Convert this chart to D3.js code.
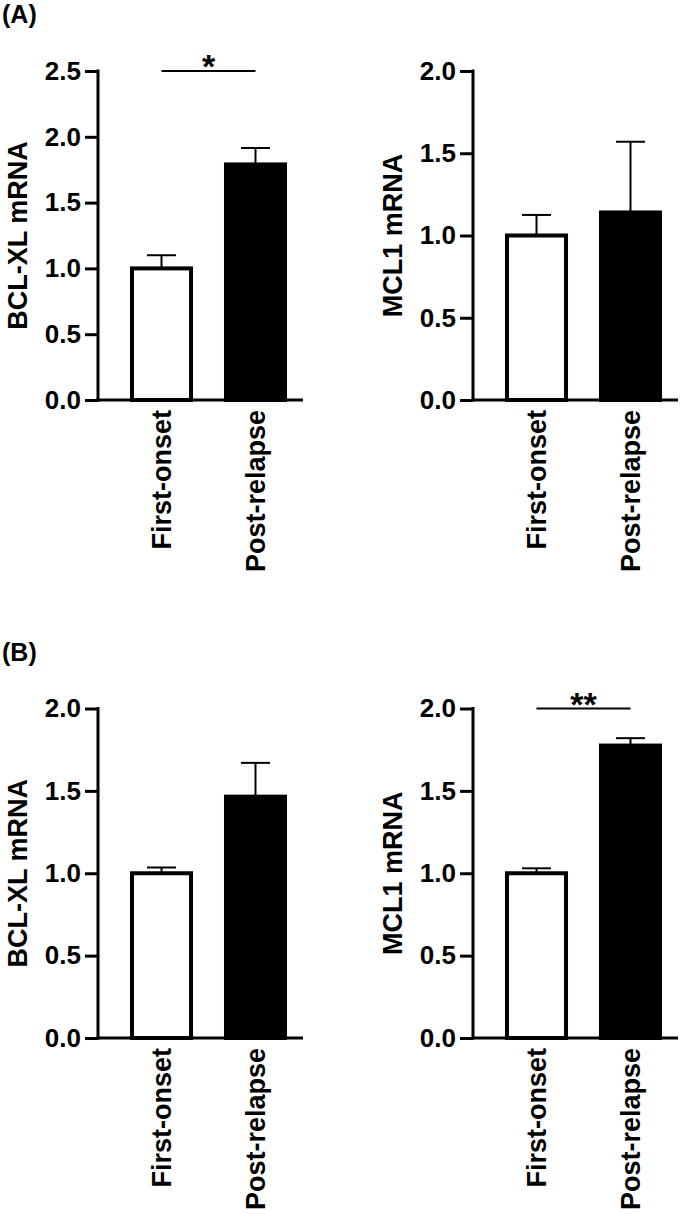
<!DOCTYPE html>
<html>
<head>
<meta charset="utf-8">
<script src="https://cdn.jsdelivr.net/npm/d3@7"></script>
<style>
html,body{margin:0;padding:0;background:#fff;}
svg{display:block;}
text{font-family:"Liberation Sans",Arial,Helvetica,sans-serif;fill:#000;}
</style>
</head>
<body>
<script>
// ---- data ----
const categories = ["First-onset", "Post-relapse"];
const panelLabels = ["(A)", "(B)"];
const yTitles = ["BCL-XL mRNA", "MCL1 mRNA", "BCL-XL mRNA", "MCL1 mRNA"];
const yMaxes = [2.5, 2.0, 2.0, 2.0];
const meansA_BCLXL = [1.0, 1.79];
const errA_BCLXL = [0.10, 0.125];
const meansA_MCL1 = [1.0, 1.14];
const errA_MCL1 = [0.125, 0.43];
const meansB_BCLXL = [1.0, 1.465];
const errB_BCLXL = [0.035, 0.205];
const meansB_MCL1 = [1.0, 1.775];
const errB_MCL1 = [0.03, 0.045];
const significance = ["*", "", "", "**"];
const barFills = ["#fff", "#000"];

const panels = [
  {means: meansA_BCLXL, errs: errA_BCLXL, row: 0, col: 0},
  {means: meansA_MCL1, errs: errA_MCL1, row: 0, col: 1},
  {means: meansB_BCLXL, errs: errB_BCLXL, row: 1, col: 0},
  {means: meansB_MCL1, errs: errB_MCL1, row: 1, col: 1}
];

const W = 696, H = 1214;
const svg = d3.select("body").append("svg").attr("width", W).attr("height", H);

const rowTop = [71, 708.5], rowBottom = [400, 1038];
const colAxis = [98, 473];
const panelLabelY = [23, 661];

panelLabels.forEach((t, i) => {
  svg.append("text").attr("x", 2).attr("y", panelLabelY[i])
    .attr("font-size", 25).attr("font-weight", "bold").text(t);
});

panels.forEach((p, i) => {
  const ax = colAxis[p.col];
  const yTop = rowTop[p.row], yBot = rowBottom[p.row];
  const yMax = yMaxes[i];
  const y = d3.scaleLinear().domain([0, yMax]).range([yBot, yTop]);
  const x = d3.scaleBand().domain(categories)
    .range([ax + 16.5, ax + 204.5]).paddingInner(0.372).paddingOuter(0.186);
  const g = svg.append("g");

  // bars
  g.selectAll("rect.bar").data(p.means).enter().append("rect")
    .attr("x", (d, j) => x(categories[j]))
    .attr("y", d => y(d))
    .attr("width", x.bandwidth())
    .attr("height", d => y(0) - y(d))
    .attr("fill", (d, j) => barFills[j])
    .attr("stroke", "#000").attr("stroke-width", 4);

  // error bars (upper only)
  p.means.forEach((m, j) => {
    const cx = x(categories[j]) + x.bandwidth() / 2;
    g.append("line").attr("x1", cx).attr("x2", cx)
      .attr("y1", y(m)).attr("y2", y(m + p.errs[j]))
      .attr("stroke", "#000").attr("stroke-width", 2);
    g.append("line").attr("x1", cx - 14.5).attr("x2", cx + 14.5)
      .attr("y1", y(m + p.errs[j])).attr("y2", y(m + p.errs[j]))
      .attr("stroke", "#000").attr("stroke-width", 2);
  });

  // y axis
  const yAxis = d3.axisLeft(y).tickValues(d3.range(0, yMax + 0.001, 0.5))
    .tickFormat(d3.format(".1f")).tickSize(13).tickPadding(4);
  const ya = g.append("g").attr("transform", `translate(${ax},0)`).call(yAxis);
  ya.select(".domain").remove();
  ya.selectAll(".tick line").attr("stroke", "#000").attr("stroke-width", 3);
  ya.selectAll(".tick text").attr("font-size", 26).attr("font-weight", "bold")
    .style("font-family", '"Liberation Sans",Arial,sans-serif').attr("fill", "#000");
  g.append("line").attr("x1", ax).attr("x2", ax).attr("y1", yTop - 1.5).attr("y2", yBot + 1.5)
    .attr("stroke", "#000").attr("stroke-width", 3);

  // x axis
  const xa = g.append("g").attr("transform", `translate(0,${yBot})`)
    .call(d3.axisBottom(x).tickSize(0).tickPadding(10));
  xa.select(".domain").remove();
  xa.selectAll(".tick text")
    .attr("font-size", 27).attr("font-weight", "bold")
    .style("font-family", '"Liberation Sans",Arial,sans-serif').attr("fill", "#000")
    .attr("text-anchor", "end")
    .attr("transform", "rotate(-90)")
    .attr("x", -10).attr("y", 0).attr("dy", "0.36em");
  g.append("line").attr("x1", ax - 1.5).attr("x2", ax + 205).attr("y1", yBot).attr("y2", yBot)
    .attr("stroke", "#000").attr("stroke-width", 3);

  // y title
  g.append("text")
    .attr("transform", `translate(${ax - 71},${(yTop + yBot) / 2}) rotate(-90)`)
    .attr("text-anchor", "middle").attr("font-size", 27).attr("font-weight", "bold")
    .text(yTitles[i]);

  // significance
  if (significance[i]) {
    const c1 = x(categories[0]) + x.bandwidth() / 2;
    const c2 = x(categories[1]) + x.bandwidth() / 2;
    g.append("line").attr("x1", c1).attr("x2", c2).attr("y1", y(yMax)).attr("y2", y(yMax))
      .attr("stroke", "#000").attr("stroke-width", 2);
    g.append("text").attr("x", (c1 + c2) / 2).attr("y", y(yMax) + 7)
      .attr("text-anchor", "middle").attr("font-size", 34).attr("font-weight", "bold")
      .text(significance[i]);
  }
});
</script>
</body>
</html>
